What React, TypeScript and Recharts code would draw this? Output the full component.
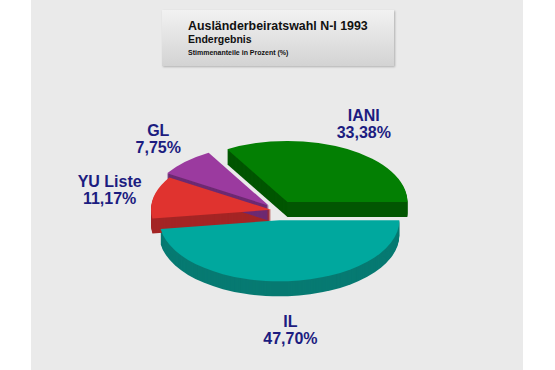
import React from 'react';
import { PieChart, Pie } from 'recharts';

// Ausländerbeiratswahl N-I 1993, Endergebnis
const parties = ['IL', 'YU Liste', 'GL', 'IANI'];
const shares = [47.7, 11.17, 7.75, 33.38];

const topColors = ['#00a89e', '#e0332f', '#9b3a9f', '#037f03'];
const sideColors = ['#077a72', '#a42525', '#6d2a72', '#025602'];
// how far each slice is pulled out of the pie
const explode = [19, 7, 13, 19];

const data = parties.map((name, i) => ({ name, value: shares[i] }));

const RAD = Math.PI / 180;
const TILT = 0.51;
const DEPTH = 15;
const LABEL_COLOR = '#1c1c80';
const FONT = '"Liberation Sans", Arial, sans-serif';

const fmt = (v: number) => v.toFixed(2).replace('.', ',') + '%';

// flat slice path on a tilted (squashed) pie
const slicePath = (p: any): string => {
  const { cx, cy, outerRadius, startAngle, endAngle, midAngle, index } = p;
  const e = explode[index];
  const ox = cx + e * Math.cos(midAngle * RAD);
  const oy = cy - e * TILT * Math.sin(midAngle * RAD);
  const x1 = ox + outerRadius * Math.cos(startAngle * RAD);
  const y1 = oy - outerRadius * TILT * Math.sin(startAngle * RAD);
  const x2 = ox + outerRadius * Math.cos(endAngle * RAD);
  const y2 = oy - outerRadius * TILT * Math.sin(endAngle * RAD);
  const large = Math.abs(startAngle - endAngle) > 180 ? 1 : 0;
  const sweep = startAngle > endAngle ? 1 : 0;
  return `M${ox},${oy} L${x1},${y1} A${outerRadius},${outerRadius * TILT} 0 ${large} ${sweep} ${x2},${y2} Z`;
};

// side walls: the slice repeated downwards
const renderWalls = (p: any) => {
  const d = slicePath(p);
  const layers = [];
  for (let k = DEPTH; k >= 1; k--) {
    layers.push(<path key={k} d={d} transform={`translate(0,${k})`} fill={sideColors[p.index]} />);
  }
  return <g key={`wall-${p.index}`}>{layers}</g>;
};

// top face plus the two-line label
const renderTop = (p: any) => {
  const { cx, cy, midAngle, index, name, value } = p;
  const s = Math.sin(midAngle * RAD);
  const lx = cx + 172 * Math.cos(midAngle * RAD);
  const ly = cy - 100 * s + (s < 0 ? DEPTH + 5 : 0);
  return (
    <g key={`top-${index}`}>
      <path d={slicePath(p)} fill={topColors[index]} />
      <text x={lx} y={ly - 3} textAnchor="middle" fill={LABEL_COLOR} fontSize={16} fontWeight="bold" fontFamily={FONT}>
        {name}
      </text>
      <text x={lx} y={ly + 14} textAnchor="middle" fill={LABEL_COLOR} fontSize={16} fontWeight="bold" fontFamily={FONT}>
        {fmt(value)}
      </text>
    </g>
  );
};

export default function App() {
  return (
    <div style={{ position: 'absolute', left: 0, top: 0, width: 555, height: 370, background: '#ffffff', overflow: 'hidden' }}>
      <div style={{ position: 'absolute', left: 31, top: 0, width: 492, height: 370, background: '#eaeaea' }} />
      <div
        style={{
          position: 'absolute', left: 162, top: 10, width: 232, height: 56,
          background: 'linear-gradient(#f2f2f2, #d3d3d3)',
          boxShadow: '1px 1px 2px rgba(0,0,0,0.25)',
        }}
      />
      <svg width={555} height={80} style={{ position: 'absolute', left: 0, top: 0 }}>
        <text x={188} y={29.5} fontSize={12.4} fontWeight="bold" fontFamily={FONT} fill="#111">
          Ausländerbeiratswahl N-I 1993
        </text>
        <text x={188} y={42.5} fontSize={10.5} fontWeight="bold" fontFamily={FONT} fill="#111">
          Endergebnis
        </text>
        <text x={188} y={55} fontSize={7} fontWeight="bold" fontFamily={FONT} fill="#111">
          Stimmenanteile in Prozent (%)
        </text>
      </svg>
      <div style={{ position: 'absolute', left: 0, top: 0 }}>
        <PieChart width={555} height={370} margin={{ top: 0, right: 0, bottom: 0, left: 0 }}>
          <Pie
            data={data}
            dataKey="value"
            nameKey="name"
            cx={278}
            cy={210.5}
            outerRadius={120}
            startAngle={0}
            endAngle={-360}
            fill="none"
            stroke="none"
            labelLine={false}
            label={renderWalls}
            isAnimationActive={false}
          />
          <Pie
            data={data}
            dataKey="value"
            nameKey="name"
            cx={278}
            cy={210.5}
            outerRadius={120}
            startAngle={0}
            endAngle={-360}
            fill="none"
            stroke="none"
            labelLine={false}
            label={renderTop}
            isAnimationActive={false}
          />
        </PieChart>
      </div>
    </div>
  );
}
